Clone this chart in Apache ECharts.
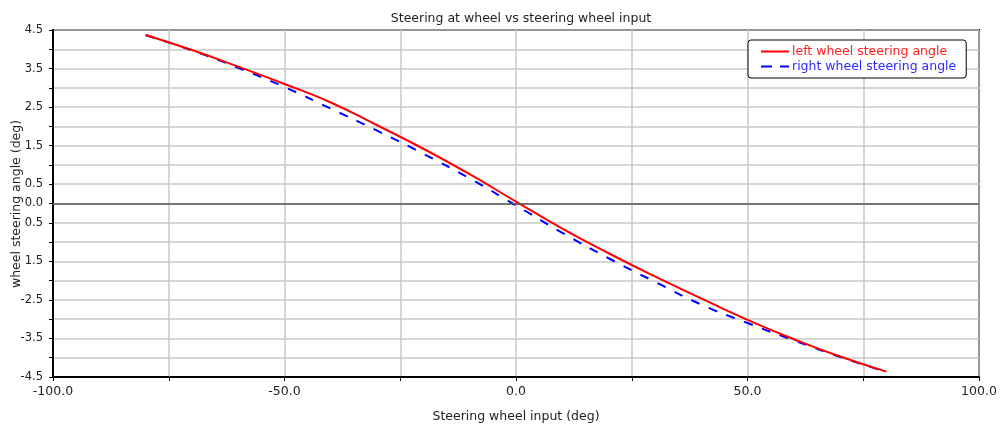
<!DOCTYPE html>
<html>
<head>
<meta charset="utf-8">
<script src="https://cdn.jsdelivr.net/npm/echarts@6/dist/echarts.min.js"></script>
<style>
  html, body { margin: 0; padding: 0; background: #fff; }
  #chart { width: 1000px; height: 430px; }
</style>
</head>
<body>
<div id="chart"></div>
<script>
// Steering wheel input (deg)
const wheelInput = [-80, -70, -60, -50, -40, -30, -20, -10, 0, 10, 20, 30, 40, 50, 60, 70, 80];
// Left wheel steering angle (deg)
const leftAngle = [4.37, 3.98, 3.55, 3.10, 2.62, 2.03, 1.42, 0.76, 0.05, -0.65, -1.29, -1.89, -2.46, -3.02, -3.52, -3.97, -4.36];
// Right wheel steering angle (deg)
const rightAngle = [4.37, 3.97, 3.52, 3.02, 2.46, 1.89, 1.29, 0.65, -0.05, -0.76, -1.42, -2.03, -2.62, -3.10, -3.55, -3.98, -4.37];

const seriesNames = ['left wheel steering angle', 'right wheel steering angle'];
const yTitle = 'wheel steering angle (deg)';
const FONT = '"DejaVu Sans", Verdana, sans-serif';
const FS = 12.5;

const pairs = (xs, ys) => xs.map((x, i) => [x, ys[i]]);

const chart = echarts.init(document.getElementById('chart'), null, { renderer: 'canvas' });
chart.setOption({
  animation: false,
  backgroundColor: '#fff',
  textStyle: { fontFamily: FONT },
  title: {
    text: 'Steering at wheel vs steering wheel input',
    left: 516, top: 7, textAlign: 'center',
    textStyle: { fontSize: FS, fontWeight: 'normal', color: '#222', fontFamily: FONT }
  },
  grid: {
    left: 53, right: 21, top: 30, bottom: 53,
    containLabel: false, outerBoundsMode: 'none',
    show: true, borderColor: '#000', borderWidth: 2, backgroundColor: 'transparent'
  },
  // vertical axis title, painted above the tick labels
  graphic: [{
    type: 'text', x: 17, y: 204, rotation: Math.PI / 2, z: 100, silent: true,
    style: {
      text: yTitle, font: FS + 'px ' + FONT, fill: '#222',
      align: 'center', verticalAlign: 'middle',
      backgroundColor: '#fff', padding: [1, 2]
    }
  }],
  legend: {
    orient: 'vertical',
    left: 748, top: 40,
    padding: [5, 10, 5, 13],
    itemGap: 2,
    itemWidth: 28, itemHeight: 14,
    borderColor: '#000', borderWidth: 1, borderRadius: 3,
    backgroundColor: '#fff',
    data: [
      {
        name: seriesNames[0],
        icon: 'path://M0,0h28v2h-28z',
        itemStyle: { color: '#ff0000' },
        textStyle: { color: '#ff2020' }
      },
      {
        name: seriesNames[1],
        icon: 'path://M0,0h11v2h-11z M19,0h9v2h-9z',
        itemStyle: { color: '#0000ff' },
        textStyle: { color: '#2a2aff' }
      }
    ],
    textStyle: { fontSize: FS, fontFamily: FONT, padding: [0, 0, 0, -2] }
  },
  xAxis: {
    type: 'value', min: -100, max: 100, interval: 25,
    name: 'Steering wheel input (deg)', nameLocation: 'middle', nameGap: 33,
    nameMoveOverlap: false,
    nameTextStyle: { fontSize: FS, color: '#222', fontFamily: FONT },
    axisLine: { show: true, onZero: false, lineStyle: { color: '#000', width: 2 } },
    axisTick: { show: true, length: 4, lineStyle: { color: '#000', width: 1 } },
    axisLabel: {
      color: '#222', fontSize: FS, margin: 8, fontFamily: FONT,
      formatter: v => (Math.round(v) % 50 === 0 ? v.toFixed(1) : '')
    },
    splitLine: { show: true, lineStyle: { color: '#c8c8c8', width: 1.5 } }
  },
  yAxis: {
    type: 'value', min: -4.5, max: 4.5, interval: 0.5,
    axisLine: { show: true, onZero: false, lineStyle: { color: '#000', width: 2 } },
    axisTick: { show: true, length: 4, lineStyle: { color: '#000', width: 1 } },
    axisLabel: {
      color: '#222', fontSize: 11.5, margin: 10, fontFamily: FONT,
      formatter: v => {
        const h = Math.round(v * 2);
        return (h === 0 || Math.abs(h) % 2 === 1) ? v.toFixed(1) : '';
      }
    },
    splitLine: { show: true, lineStyle: { color: '#c8c8c8', width: 1.5 } }
  },
  series: [
    {
      name: seriesNames[0], type: 'line', smooth: true, symbol: 'none', z: 3,
      data: pairs(wheelInput, leftAngle),
      lineStyle: { color: '#ff0000', width: 2 },
      itemStyle: { color: '#ff0000' },
      markLine: {
        silent: true, symbol: 'none', label: { show: false },
        lineStyle: { color: '#555', width: 1.5, type: 'solid' },
        data: [{ yAxis: 0 }]
      }
    },
    {
      name: seriesNames[1], type: 'line', smooth: true, symbol: 'none', z: 2,
      data: pairs(wheelInput, rightAngle),
      lineStyle: { color: '#0000ff', width: 2, type: [9, 10] },
      itemStyle: { color: '#0000ff' }
    }
  ]
});
</script>
</body>
</html>
